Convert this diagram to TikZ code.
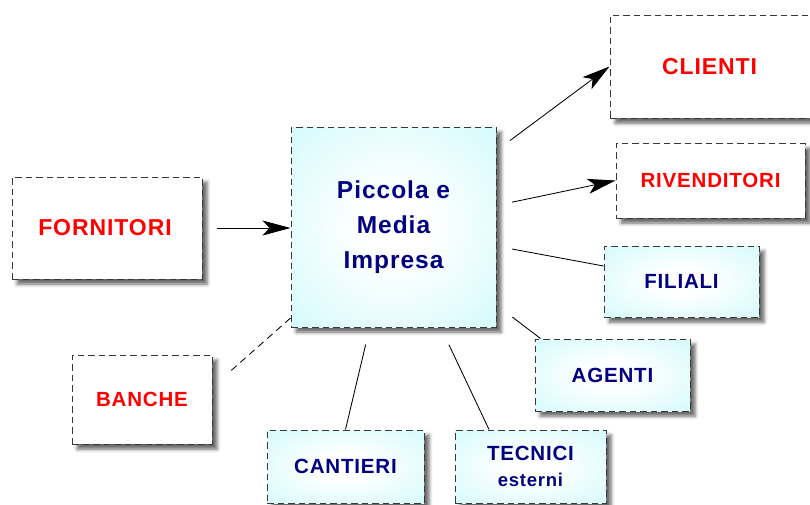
\documentclass[tikz,border=0pt]{standalone}
\usepackage{fontspec}
\setmainfont{Liberation Sans}
\newfontfamily\labfont{Liberation Sans}[LetterSpace=4]
\usetikzlibrary{arrows.meta,shadows.blur}
\definecolor{cyanout}{RGB}{192,248,250}
\definecolor{navyblue}{RGB}{0,0,128}
\pgfdeclareradialshading{cyanball}{\pgfpoint{0bp}{0bp}}{color(0bp)=(white); color(8bp)=(white); color(50bp)=(cyanout); color(100bp)=(cyanout)}
\tikzset{
  box/.style={draw=black!78, dash pattern=on 6.5pt off 4pt, line width=1pt, inner sep=0pt, align=center,
    blur shadow={shadow xshift=5pt, shadow yshift=-5pt, shadow blur radius=3.5pt, shadow opacity=60}},
  whitebox/.style={box, fill=white, text=red, font=\labfont\bfseries\fontsize{20.5}{24}\selectfont},
  cyanbox/.style={box, shading=cyanball, text=navyblue, font=\labfont\bfseries\fontsize{20.5}{24}\selectfont},
  conn/.style={line width=0.85pt, black},
  arr/.style={conn, -{Stealth[length=28pt,width=15pt,inset=7pt]}},
}
\begin{document}
\begin{tikzpicture}[x=1pt,y=-1pt]
\useasboundingbox (0,0) rectangle (810,504);
\node[cyanbox, minimum width=205pt, minimum height=200pt, font=\labfont\bfseries\fontsize{24.5}{35}\selectfont] (pmi) at (393.5,227) {Piccola e\\Media\\Impresa};
\node[whitebox, minimum width=205pt, minimum height=103pt, font=\labfont\bfseries\fontsize{23}{26}\selectfont] (clienti) at (712.5,66.5) {\hspace*{-6pt}CLIENTI};
\node[whitebox, minimum width=189pt, minimum height=75pt] (riv) at (710.5,180.5) {RIVENDITORI};
\node[whitebox, minimum width=190pt, minimum height=102pt, font=\labfont\bfseries\fontsize{23}{26}\selectfont] (forn) at (107,228) {\hspace*{-4pt}FORNITORI};
\node[whitebox, minimum width=140pt, minimum height=89pt] (banche) at (142,399.5) {BANCHE};
\node[cyanbox, minimum width=157pt, minimum height=73pt] (cantieri) at (345.5,466.5) {CANTIERI};
\node[cyanbox, minimum width=151pt, minimum height=73pt] (tecnici) at (530.5,466.5) {TECNICI\\[2pt]{\fontsize{18.5}{22}\selectfont esterni}};
\node[cyanbox, minimum width=155pt, minimum height=71pt] (filiali) at (681.5,281.5) {FILIALI};
\node[cyanbox, minimum width=155pt, minimum height=72pt] (agenti) at (612.5,375) {AGENTI};

\draw[arr, shorten <=14pt] (forn.east) -- (forn.east -| pmi.west);
\draw[arr, shorten <=17pt] (pmi) -- (clienti.west);
\draw[arr, shorten <=16pt] (pmi) -- (riv.west);
\draw[conn, shorten <=16pt] (pmi) -- ([yshift=15.5pt]filiali.west);
\draw[conn, shorten <=20pt] (pmi) -- ([xshift=6pt]agenti.north west);
\draw[conn, shorten <=19pt] (pmi) -- ([xshift=-41.5pt]tecnici.north);
\draw[conn, shorten <=17.5pt] (pmi) -- (cantieri.north);
\draw[conn, dash pattern=on 7pt off 5pt, shorten >=21pt] (pmi) -- ([yshift=12.5pt]banche.east);
\end{tikzpicture}
\end{document}
